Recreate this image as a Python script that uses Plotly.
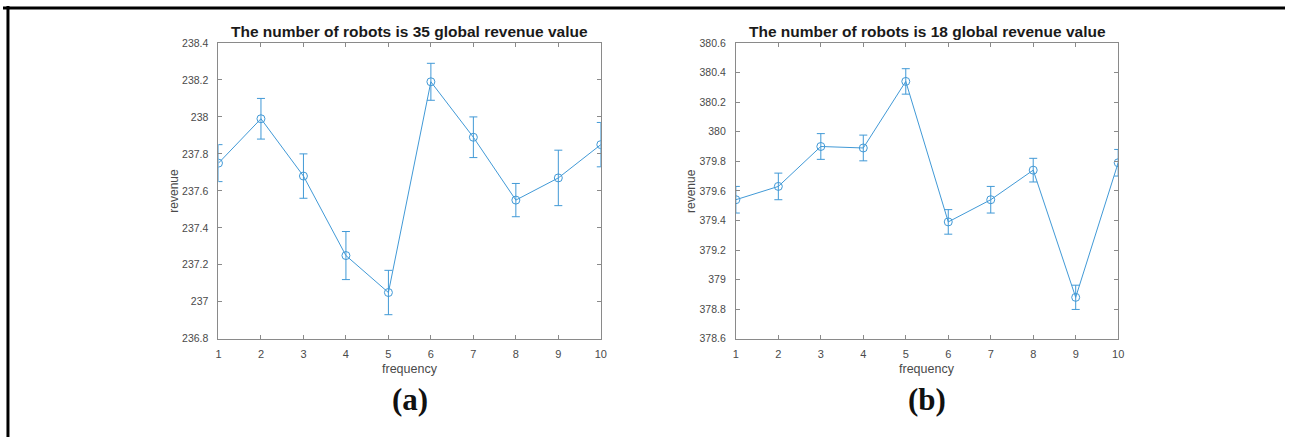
import plotly.graph_objects as go

W, H = 1291, 443

# frequency settings on the x axis
frequency = [1, 2, 3, 4, 5, 6, 7, 8, 9, 10]

# 35 robots: mean global revenue and error half-widths
revenue_35 = [237.75, 237.99, 237.68, 237.25, 237.05, 238.19, 237.89, 237.55, 237.67, 237.85]
err_35 = [0.10, 0.11, 0.12, 0.13, 0.12, 0.10, 0.11, 0.09, 0.15, 0.12]

# 18 robots: mean global revenue and error half-widths
revenue_18 = [379.54, 379.63, 379.90, 379.89, 380.34, 379.39, 379.54, 379.74, 378.88, 379.79]
err_18 = [0.09, 0.09, 0.087, 0.087, 0.086, 0.083, 0.09, 0.08, 0.082, 0.09]

yticks_35 = [236.8, 237, 237.2, 237.4, 237.6, 237.8, 238, 238.2, 238.4]
yticks_18 = [378.6, 378.8, 379, 379.2, 379.4, 379.6, 379.8, 380, 380.2, 380.4, 380.6]

titles = ["The number of robots is 35 global revenue value",
          "The number of robots is 18 global revenue value"]
panel_tags = ["(a)", "(b)"]

BLUE = "#4199d6"
AXIS = "#8a8a8a"
TICKTXT = "#4a4a4a"
SANS = "Liberation Sans, Arial, Helvetica"


def px(x):
    return x / W


def py(y):
    return 1 - y / H


# plot-area pixel boxes: (left, right, top, bottom)
boxes = [(217, 602, 38, 342), (738, 1123, 38, 342)]

fig = go.Figure()


def label(x, y, text, font, angle=0):
    fig.add_annotation(x=px(x), y=py(y), xref="paper", yref="paper", showarrow=False,
                       xanchor="center", yanchor="middle", text=text, textangle=angle,
                       font=font)


series = [(revenue_35, err_35, yticks_35), (revenue_18, err_18, yticks_18)]
for i, ((vals, errs, yt), (l, r, t, b)) in enumerate(zip(series, boxes)):
    n = "" if i == 0 else str(i + 1)
    fig.add_trace(go.Scatter(
        x=frequency, y=vals,
        mode="lines+markers",
        line=dict(color=BLUE, width=1),
        marker=dict(symbol="circle-open", size=8, color=BLUE, line=dict(width=1)),
        error_y=dict(type="data", array=errs, visible=True, color=BLUE, thickness=1, width=4),
        xaxis="x" + n, yaxis="y" + n, showlegend=False,
    ))
    axis_common = dict(
        showgrid=False, zeroline=False, showline=True, linecolor=AXIS, linewidth=1,
        mirror="ticks", ticks="inside", ticklen=4, tickcolor=AXIS,
    )
    fig.update_layout(**{
        "xaxis" + n: dict(domain=[px(l), px(r)], range=[1, 10], tickvals=frequency,
                          anchor="y" + n, ticklabelstandoff=5,
                          tickfont=dict(family=SANS, size=11, color=TICKTXT),
                          **axis_common),
        "yaxis" + n: dict(domain=[py(b), py(t)], range=[yt[0], yt[-1]], tickvals=yt,
                          anchor="x" + n, ticklabelstandoff=7,
                          tickfont=dict(family=SANS, size=10.5, color=TICKTXT),
                          **axis_common),
    })
    cx = (l + r) / 2
    label(cx, 26, "<b>" + titles[i] + "</b>", dict(family=SANS, size=15.5, color="#1a1a1a"))
    label(cx, 373, "frequency", dict(family=SANS, size=12.5, color=TICKTXT))
    label(l - 45, (t + b) / 2, "revenue", dict(family=SANS, size=12, color=TICKTXT), angle=-90)
    label(cx, 404, "<b>" + panel_tags[i] + "</b>",
          dict(family="Liberation Serif, Times New Roman", size=31, color="#111111"))

# outer frame edges (top and left)
fig.add_shape(type="line", xref="paper", yref="paper", x0=0, x1=1, y0=py(2), y1=py(2),
              line=dict(color="black", width=3))
fig.add_shape(type="line", xref="paper", yref="paper", x0=px(5), x1=px(5), y0=0, y1=1,
              line=dict(color="black", width=3))

fig.update_layout(width=W, height=H, margin=dict(l=0, r=0, t=0, b=0),
                  paper_bgcolor="white", plot_bgcolor="white")

fig.write_html("out.html")
